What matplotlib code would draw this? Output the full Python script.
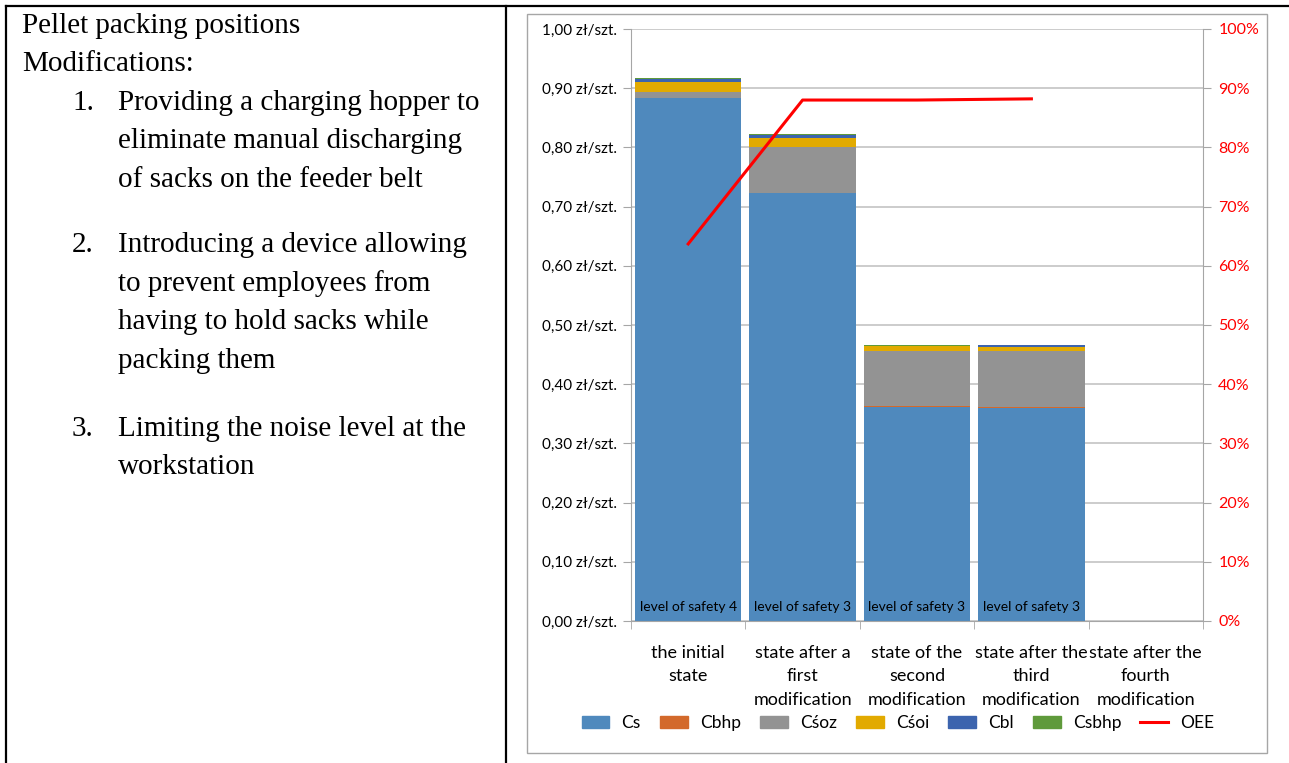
import numpy as np
import matplotlib.pyplot as plt
from matplotlib.patches import Patch, Rectangle
from matplotlib.lines import Line2D
from matplotlib.ticker import FuncFormatter, MultipleLocator, FixedLocator

plt.rcParams['font.family'] = ['Lato', 'DejaVu Sans']

W, H = 1289, 763

# chart data
categories = ['the initial\nstate', 'state after a\nfirst\nmodification',
              'state of the\nsecond\nmodification', 'state after the\nthird\nmodification',
              'state after the\nfourth\nmodification']
cs = [0.884, 0.7235, 0.3615, 0.3605, 0.0]
cbhp = [0.0, 0.0, 0.0017, 0.0012, 0.0]
csoz = [0.0095, 0.077, 0.0928, 0.0946, 0.0]
csoi = [0.017, 0.0157, 0.0085, 0.0068, 0.0]
cbl = [0.0045, 0.004, 0.0, 0.0034, 0.0]
csbhp = [0.002, 0.0026, 0.0025, 0.0, 0.0]
oee = [0.637, 0.880, 0.880, 0.882]
safety = ['level of safety 4', 'level of safety 3', 'level of safety 3', 'level of safety 3', '']

series = [('Cs', cs, '#4F89BD'), ('Cbhp', cbhp, '#D3692B'), ('Cśoz', csoz, '#939393'),
          ('Cśoi', csoi, '#E2AA00'), ('Cbl', cbl, '#3C64AE'), ('Csbhp', csbhp, '#5F9A3B')]

left_lines = ['Pellet packing positions', 'Modifications:']
items = [['Providing a charging hopper to', 'eliminate manual discharging', 'of sacks on the feeder belt'],
         ['Introducing a device allowing', 'to prevent employees from', 'having to hold sacks while', 'packing them'],
         ['Limiting the noise level at the', 'workstation']]


def fx(x):
    return x / W


def fy(y):
    return 1 - y / H


fig = plt.figure(figsize=(W / 100, H / 100), dpi=100)

# table borders
for xs, ys in [((6, W), (6, 6)), ((6, 6), (6, H)), ((506, 506), (6, H))]:
    fig.add_artist(Line2D([fx(v) for v in xs], [fy(v) for v in ys], color='black', lw=1.6))

# chart frame
fig.add_artist(Rectangle((fx(527), fy(753)), fx(1267 - 527), (753 - 14) / H,
                         fill=False, edgecolor='#A6A6A6', lw=1))

# left cell text
serif = ['Liberation Serif', 'DejaVu Serif']
fs = 21
fig.text(fx(22), fy(33), left_lines[0], family=serif, fontsize=fs, va='baseline')
fig.text(fx(22), fy(71), left_lines[1], family=serif, fontsize=fs, va='baseline')
item_base = [110, 252, 436]
for n, (b, lines) in enumerate(zip(item_base, items)):
    fig.text(fx(72), fy(b), f'{n + 1}.', family=serif, fontsize=fs, va='baseline')
    for k, line in enumerate(lines):
        fig.text(fx(118), fy(b + k * 38.5), line, family=serif, fontsize=fs, va='baseline')

# chart
ax = fig.add_axes([fx(631), fy(621), (1203 - 631) / W, (621 - 29) / H])
x = np.arange(len(categories))
bottom = np.zeros(len(categories))
for name, vals, col in series:
    ax.bar(x, vals, 0.93, bottom=bottom, color=col, label=name, zorder=2)
    bottom += np.array(vals)

for i, lab in enumerate(safety):
    ax.text(i, 0.014, lab, ha='center', va='bottom', fontsize=10, zorder=3)

ax.set_xlim(-0.5, len(categories) - 0.5)
ax.set_ylim(0, 1)
ax.yaxis.set_major_locator(MultipleLocator(0.1))
ax.yaxis.set_major_formatter(FuncFormatter(lambda v, p: f'{v:.2f}'.replace('.', ',') + ' zł/szt.'))
ax.set_xticks(x)
ax.set_xticklabels(categories, fontsize=13, linespacing=1.6)
ax.xaxis.set_minor_locator(FixedLocator(np.arange(-0.5, len(categories), 1)))
ax.tick_params(axis='x', which='major', length=0, pad=17)
ax.tick_params(axis='x', which='minor', length=6, color='#A6A6A6')
ax.tick_params(axis='y', length=6, color='#A6A6A6', labelsize=11, pad=4)
ax.grid(axis='y', color='#C4C4C4', lw=1.2, zorder=0)
ax.set_axisbelow(True)
for s in ['top', 'right']:
    ax.spines[s].set_visible(False)
for s in ['left', 'bottom']:
    ax.spines[s].set_color('#A6A6A6')

ax2 = ax.twinx()
ax2.plot(x[:len(oee)], oee, color='#FF0000', lw=2.2, zorder=4)
ax2.set_ylim(0, 1)
ax2.yaxis.set_major_locator(MultipleLocator(0.1))
ax2.yaxis.set_major_formatter(FuncFormatter(lambda v, p: f'{v * 100:.0f}%'))
ax2.tick_params(axis='y', length=6, color='#A6A6A6', labelcolor='#FF0000', labelsize=11.5, pad=5)
for s in ['top', 'left', 'bottom']:
    ax2.spines[s].set_visible(False)
ax2.spines['right'].set_color('#A6A6A6')

handles = [Patch(color=col, label=name) for name, vals, col in series]
handles.append(Line2D([], [], color='#FF0000', lw=2.2, label='OEE'))
fig.legend(handles=handles, loc='center', bbox_to_anchor=(fx(898), fy(723)), ncol=7,
           frameon=False, fontsize=12.5, handlelength=1.6, handleheight=0.7,
           handletextpad=0.7, columnspacing=1.1)

fig.savefig('out.png', dpi=100)
